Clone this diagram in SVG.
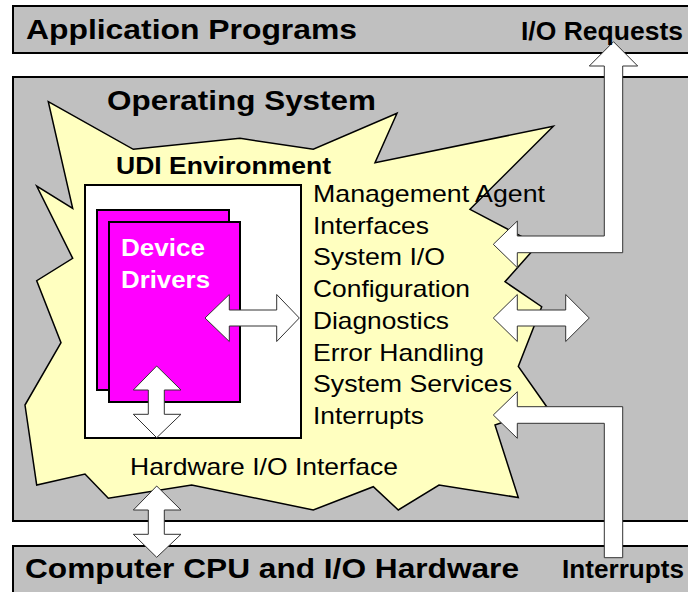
<svg xmlns="http://www.w3.org/2000/svg" width="688" height="592" viewBox="0 0 688 592">
<style>
.box{fill:#c0c0c0;stroke:#000;stroke-width:2}
.star{fill:#ffffc0;stroke:#000;stroke-width:1.5;stroke-linejoin:miter}
.page{fill:#ff00ff;stroke:#000;stroke-width:2}
.arr{fill:#fff;stroke:#333;stroke-width:1}
.t{font-family:"Liberation Sans",Arial,sans-serif;fill:#000}
.b{font-weight:bold}
.big{font-size:28px}
.lab{font-size:25px}
.med{font-size:24px}
.reg{font-size:24px}
</style>
<rect width="688" height="592" fill="#fff"/>
<g id="app-programs">
<rect class="box" x="13" y="6" width="700" height="47"/>
<text class="t b big" x="26" y="39" textLength="331" lengthAdjust="spacingAndGlyphs">Application Programs</text>
</g>
<g id="hardware">
<rect class="box" x="13" y="546" width="700" height="60"/>
<text class="t b big" x="25" y="578" textLength="494" lengthAdjust="spacingAndGlyphs">Computer CPU and I/O Hardware</text>
</g>
<g id="os">
<rect class="box" x="13" y="77" width="700" height="444"/>
<path class="star" d="M48.3,101.7 L133.3,149.3 L240,138.3 L313.3,149.3 L397,113.3 L375,162.7 L553.3,126.3 L470,209.3 L537.6,245 L505,281.7 L541.7,306.7 L518.3,366.5 L546.7,406.7 L495,425 L518.3,497.5 L439,485 L398.3,510 L373.3,486.7 L313.3,510 L191.7,485 L108.3,498.3 L85,474 L36.7,485 L25,405 L61,342.7 L36.7,280.7 L72.7,258.3 L36.7,186 L72.7,208.3 Z"/>
<text class="t b big" x="107" y="110" textLength="269" lengthAdjust="spacingAndGlyphs">Operating System</text>
<text class="t reg" x="130" y="475" textLength="268" lengthAdjust="spacingAndGlyphs">Hardware I/O Interface</text>
</g>
<g id="udi">
<rect x="85" y="185" width="216" height="253" fill="#fff" stroke="#000" stroke-width="2"/>
<text class="t b med" x="116" y="174" textLength="215" lengthAdjust="spacingAndGlyphs">UDI Environment</text>
<g class="t reg">
<text x="313" y="201.7" textLength="232" lengthAdjust="spacingAndGlyphs">Management Agent</text>
<text x="313" y="233.5" textLength="116" lengthAdjust="spacingAndGlyphs">Interfaces</text>
<text x="313" y="265.3" textLength="132" lengthAdjust="spacingAndGlyphs">System I/O</text>
<text x="313" y="297" textLength="157" lengthAdjust="spacingAndGlyphs">Configuration</text>
<text x="313" y="328.8" textLength="136" lengthAdjust="spacingAndGlyphs">Diagnostics</text>
<text x="313" y="360.6" textLength="171" lengthAdjust="spacingAndGlyphs">Error Handling</text>
<text x="313" y="392.4" textLength="199" lengthAdjust="spacingAndGlyphs">System Services</text>
<text x="313" y="424.2" textLength="111" lengthAdjust="spacingAndGlyphs">Interrupts</text>
</g>
</g>
<g id="device-drivers">
<rect class="page" x="97" y="210" width="132" height="180"/>
<rect class="page" x="109" y="222" width="131" height="180"/>
<text class="b med" x="121" y="256" fill="#fff" font-family="Liberation Sans,Arial,sans-serif" textLength="84" lengthAdjust="spacingAndGlyphs">Device</text>
<text class="b med" x="121" y="288" fill="#fff" font-family="Liberation Sans,Arial,sans-serif" textLength="89" lengthAdjust="spacingAndGlyphs">Drivers</text>
</g>
<g id="connectors">
<path class="arr" d="M613.5,41.7 L637.7,66 L622.7,66 L622.7,252.7 L517.3,252.7 L517.3,267.6 L493.3,244.3 L517.3,221 L517.3,236 L604.3,236 L604.3,66 L589.3,66 Z"/>
<path class="arr" d="M493.3,415 L517.3,391.7 L517.3,406.7 L622.7,406.7 L622.7,557.7 L604.3,557.7 L604.3,423.3 L517.3,423.3 L517.3,438.3 Z"/>
<path class="arr" d="M493.3,318 L517.3,294.5 L517.3,310 L565.7,310 L565.7,294.5 L589.3,318 L565.7,341.5 L565.7,326 L517.3,326 L517.3,341.5 Z"/>
<path class="arr" d="M205,318 L229.3,294.5 L229.3,310 L276.7,310 L276.7,294.5 L299.3,318 L276.7,341.5 L276.7,326 L229.3,326 L229.3,341.5 Z"/>
<path class="arr" d="M156.7,366 L181,390 L164.3,390 L164.3,414.3 L181,414.3 L156.7,437.7 L133.3,414.3 L148.3,414.3 L148.3,390 L133.3,390 Z"/>
<path class="arr" d="M156.7,486 L181,510 L164.3,510 L164.3,534.3 L181,534.3 L156.7,557.3 L133.3,534.3 L148.3,534.3 L148.3,510 L133.3,510 Z"/>
</g>
<g id="labels">
<text class="t b lab" x="521" y="40" textLength="162" lengthAdjust="spacingAndGlyphs">I/O Requests</text>
<text class="t b lab" x="562" y="578" textLength="122" lengthAdjust="spacingAndGlyphs">Interrupts</text>
</g>
</svg>
